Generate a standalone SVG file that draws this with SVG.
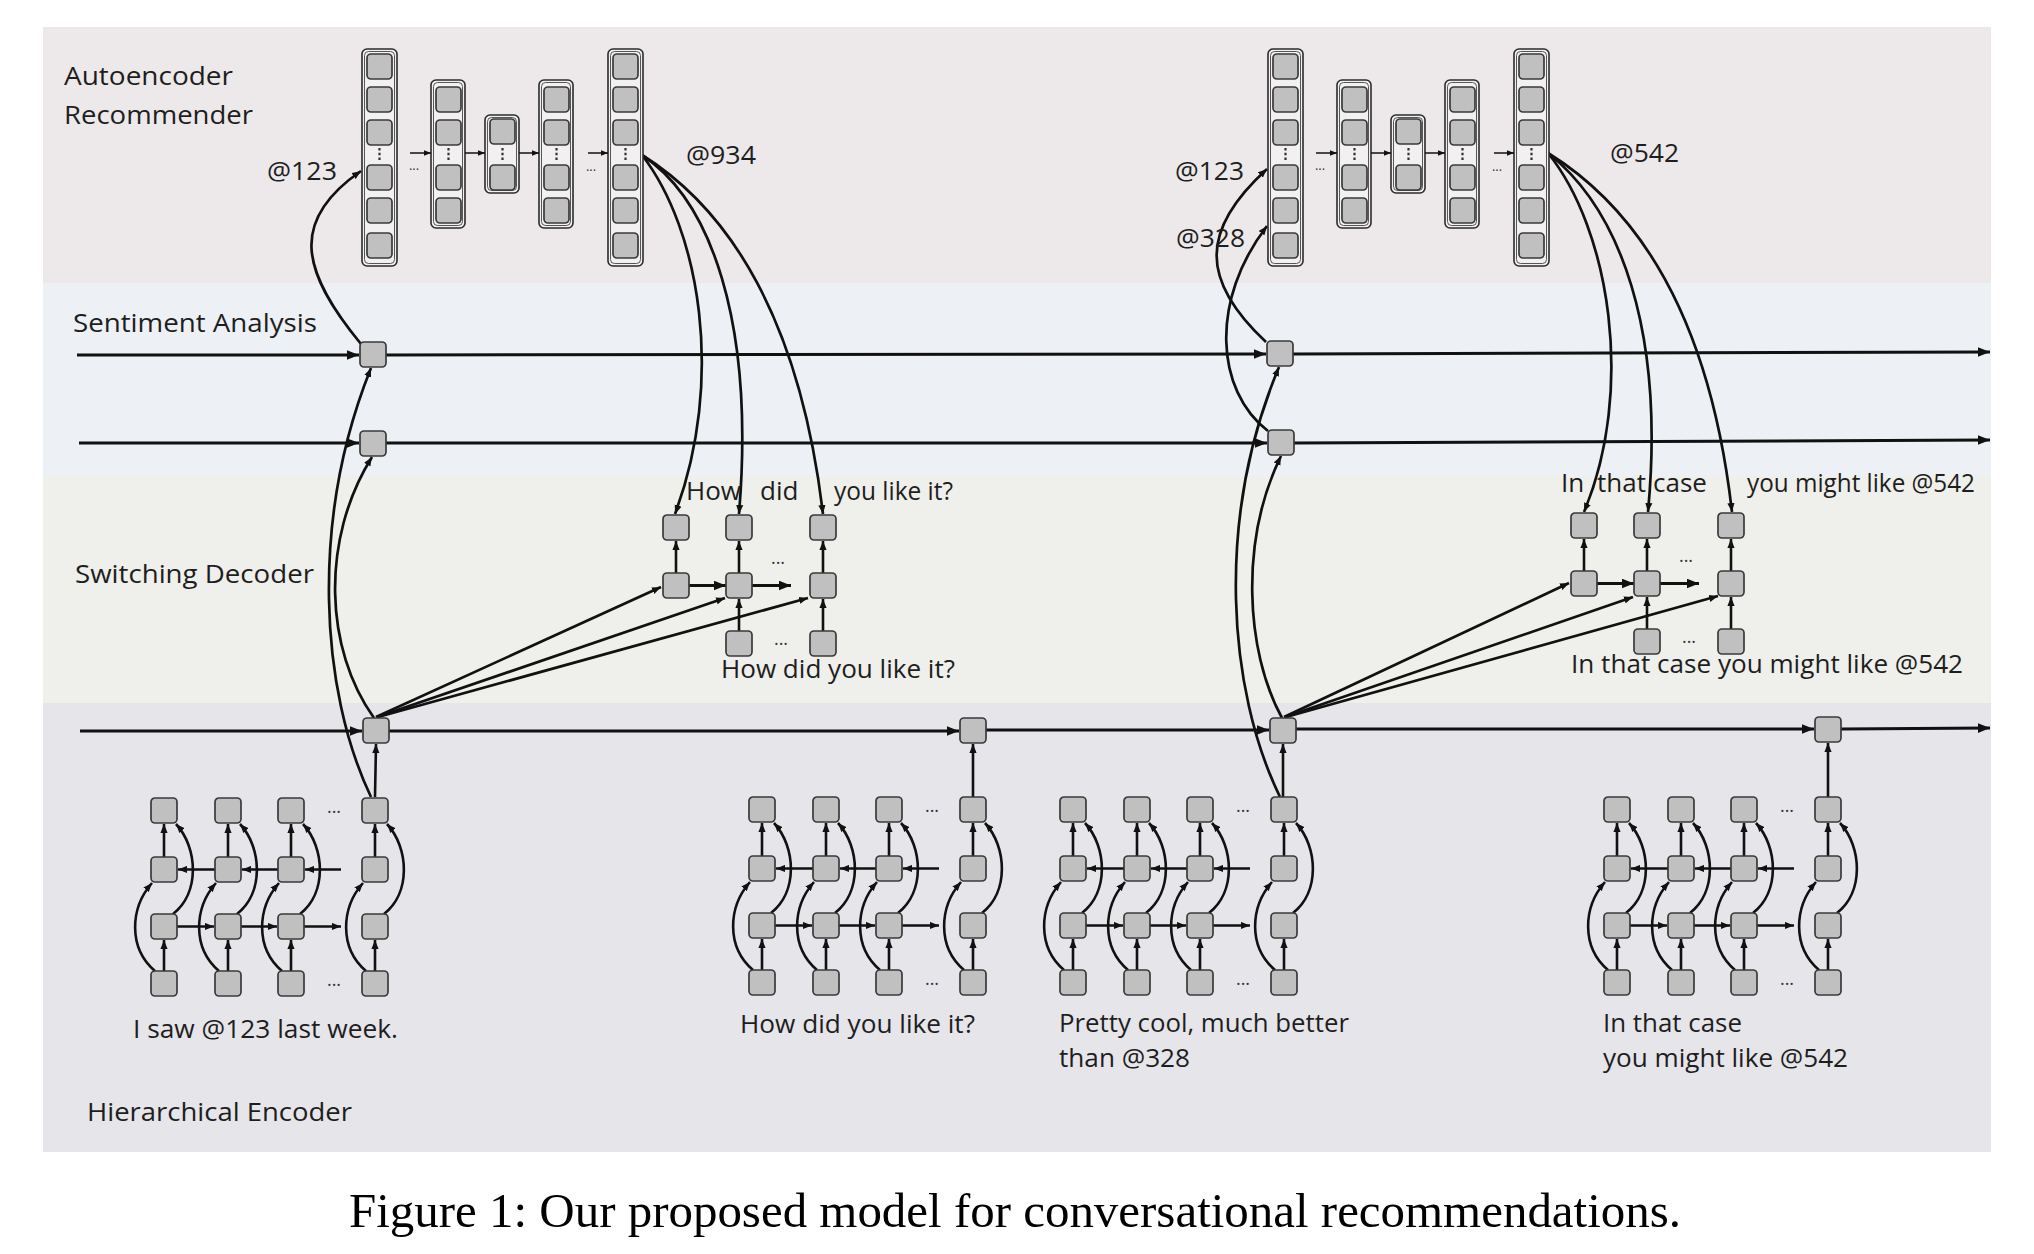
<svg xmlns="http://www.w3.org/2000/svg" width="2034" height="1254" viewBox="0 0 2034 1254">
<style>
.n{fill:#c0c0c0;stroke:#3a3a3a;stroke-width:1.7}
.col{fill:#f2f0f1;stroke:#2b2b2b;stroke-width:1.6}
.coli{fill:none;stroke:#444;stroke-width:0.9}
.ln{fill:none;stroke:#111;stroke-width:3}
.cv{fill:none;stroke:#111;stroke-width:2.7}
.e{fill:none;stroke:#111;stroke-width:2.6}
.h{fill:none;stroke:#111;stroke-width:3.2}
.ta{fill:none;stroke:#111;stroke-width:1.5}
.dt{fill:none;stroke:#333;stroke-width:2.2;stroke-dasharray:2.4 2.4}
.t{font-family:"Open Sans","Liberation Sans",sans-serif;font-size:26px;fill:#1e1e1e}
.d{font-family:"Open Sans","Liberation Sans",sans-serif;font-size:18px;fill:#333;text-anchor:middle}
.ds{font-family:"Open Sans","Liberation Sans",sans-serif;font-size:13px;fill:#333;text-anchor:middle}
.cap{font-family:"Liberation Serif","Times New Roman",serif;font-size:48px;fill:#000}
</style>
<defs>
<marker id="a" viewBox="0 0 10 8" refX="10" refY="4" markerWidth="12" markerHeight="10" markerUnits="userSpaceOnUse" orient="auto"><path d="M0,0L10,4L0,8z" fill="#111"/></marker>
<marker id="s" viewBox="0 0 10 8" refX="10" refY="4" markerWidth="9" markerHeight="8" markerUnits="userSpaceOnUse" orient="auto"><path d="M0,0L10,4L0,8z" fill="#111"/></marker>
<marker id="tn" viewBox="0 0 10 8" refX="10" refY="4" markerWidth="7" markerHeight="6" markerUnits="userSpaceOnUse" orient="auto"><path d="M0,0L10,4L0,8z" fill="#111"/></marker>

<g id="enc">
 <g marker-end="url(#s)">
  <path class="e" d="M0 173V142"/><path class="e" d="M64 173V142"/><path class="e" d="M127 173V142"/><path class="e" d="M211 173V142"/>
  <path class="e" d="M0 59V26"/><path class="e" d="M64 59V26"/><path class="e" d="M127 59V26"/><path class="e" d="M211 59V26"/>
  <path class="e" d="M13 128.5H50"/><path class="e" d="M77 128.5H113"/><path class="e" d="M140 128.5H177"/>
  <path class="e" d="M177 71.5H141"/><path class="e" d="M114 71.5H78"/><path class="e" d="M51 71.5H14"/>
  <path class="e" d="M-9 173C-36 150 -34 110 -12 85"/>
  <path class="e" d="M55 173C28 150 30 110 52 85"/>
  <path class="e" d="M118 173C91 150 93 110 115 85"/>
  <path class="e" d="M202 173C175 150 177 110 199 85"/>
  <path class="e" d="M9 116C36 95 34 50 12 26"/>
  <path class="e" d="M73 116C100 95 98 50 76 26"/>
  <path class="e" d="M136 116C163 95 161 50 139 26"/>
  <path class="e" d="M220 116C247 95 245 50 223 26"/>
 </g>
 <rect class="n" x="-13" y="0" width="26" height="25" rx="4"/><rect class="n" x="51" y="0" width="26" height="25" rx="4"/><rect class="n" x="114" y="0" width="26" height="25" rx="4"/><rect class="n" x="198" y="0" width="26" height="25" rx="4"/>
 <rect class="n" x="-13" y="59" width="26" height="25" rx="4"/><rect class="n" x="51" y="59" width="26" height="25" rx="4"/><rect class="n" x="114" y="59" width="26" height="25" rx="4"/><rect class="n" x="198" y="59" width="26" height="25" rx="4"/>
 <rect class="n" x="-13" y="116" width="26" height="25" rx="4"/><rect class="n" x="51" y="116" width="26" height="25" rx="4"/><rect class="n" x="114" y="116" width="26" height="25" rx="4"/><rect class="n" x="198" y="116" width="26" height="25" rx="4"/>
 <rect class="n" x="-13" y="173" width="26" height="25" rx="4"/><rect class="n" x="51" y="173" width="26" height="25" rx="4"/><rect class="n" x="114" y="173" width="26" height="25" rx="4"/><rect class="n" x="198" y="173" width="26" height="25" rx="4"/>
 <text class="d" x="170" y="15">...</text>
 <text class="d" x="170" y="188">...</text>
</g>

<g id="dec">
 <g marker-end="url(#s)">
  <path class="e" d="M0 58V26"/><path class="e" d="M63 58V26"/><path class="e" d="M147 58V26"/>
  <path class="e" d="M63 116V84"/><path class="e" d="M147 116V84"/>
 </g>
 <g marker-end="url(#a)">
  <path class="h" d="M13 70.5H50"/><path class="h" d="M76 70.5H115"/>
 </g>
 <rect class="n" x="-13" y="0" width="26" height="25" rx="4"/><rect class="n" x="50" y="0" width="26" height="25" rx="4"/><rect class="n" x="134" y="0" width="26" height="25" rx="4"/>
 <rect class="n" x="-13" y="58" width="26" height="25" rx="4"/><rect class="n" x="50" y="58" width="26" height="25" rx="4"/><rect class="n" x="134" y="58" width="26" height="25" rx="4"/>
 <rect class="n" x="50" y="116" width="26" height="25" rx="4"/><rect class="n" x="134" y="116" width="26" height="25" rx="4"/>
 <text class="d" x="102" y="49">...</text>
 <text class="d" x="105" y="130">...</text>
</g>

<g id="ae">
 <rect class="col" x="362" y="49" width="35" height="217" rx="5"/><rect class="coli" x="364.5" y="51.5" width="30" height="212" rx="4"/>
 <rect class="col" x="431" y="80" width="34" height="148" rx="5"/><rect class="coli" x="433.5" y="82.5" width="29" height="143" rx="4"/>
 <rect class="col" x="485" y="115" width="34" height="78" rx="5"/><rect class="coli" x="487.5" y="117.5" width="29" height="73" rx="4"/>
 <rect class="col" x="539" y="80" width="34" height="148" rx="5"/><rect class="coli" x="541.5" y="82.5" width="29" height="143" rx="4"/>
 <rect class="col" x="608" y="49" width="35" height="217" rx="5"/><rect class="coli" x="610.5" y="51.5" width="30" height="212" rx="4"/>
 <rect class="n" x="367" y="54" width="25" height="25" rx="4"/><rect class="n" x="367" y="87" width="25" height="25" rx="4"/><rect class="n" x="367" y="120" width="25" height="25" rx="4"/><rect class="n" x="367" y="165" width="25" height="25" rx="4"/><rect class="n" x="367" y="198" width="25" height="25" rx="4"/><rect class="n" x="367" y="233" width="25" height="25" rx="4"/>
 <rect class="n" x="436" y="87" width="25" height="25" rx="4"/><rect class="n" x="436" y="120" width="25" height="25" rx="4"/><rect class="n" x="436" y="165" width="25" height="25" rx="4"/><rect class="n" x="436" y="198" width="25" height="25" rx="4"/>
 <rect class="n" x="490" y="119" width="25" height="25" rx="4"/><rect class="n" x="490" y="165" width="25" height="25" rx="4"/>
 <rect class="n" x="544" y="87" width="25" height="25" rx="4"/><rect class="n" x="544" y="120" width="25" height="25" rx="4"/><rect class="n" x="544" y="165" width="25" height="25" rx="4"/><rect class="n" x="544" y="198" width="25" height="25" rx="4"/>
 <rect class="n" x="613" y="54" width="25" height="25" rx="4"/><rect class="n" x="613" y="87" width="25" height="25" rx="4"/><rect class="n" x="613" y="120" width="25" height="25" rx="4"/><rect class="n" x="613" y="165" width="25" height="25" rx="4"/><rect class="n" x="613" y="198" width="25" height="25" rx="4"/><rect class="n" x="613" y="233" width="25" height="25" rx="4"/>
 <path class="dt" d="M379.5 148V162M448.5 148V162M502.5 148V162M556.5 148V162M625.5 148V162"/>
 <g marker-end="url(#tn)">
  <path class="ta" d="M410 153H431"/><path class="ta" d="M465 153H485"/><path class="ta" d="M519 153H539"/><path class="ta" d="M588 153H608"/>
 </g>
 <text class="ds" x="414" y="170">...</text>
 <text class="ds" x="591" y="171">...</text>
</g>
</defs>

<g id="background">
 <rect x="0" y="0" width="2034" height="1254" fill="#ffffff"/>
 <rect x="43" y="27" width="1948" height="256" fill="#ede9ea"/>
 <rect x="43" y="283" width="1948" height="193" fill="#edf0f4"/>
 <rect x="43" y="476" width="1948" height="227" fill="#efefeb"/>
 <rect x="43" y="703" width="1948" height="449" fill="#e6e5ea"/>
</g>

<g id="connectors">
 <g marker-end="url(#a)">
  <path class="ln" d="M77 355H359"/>
  <path class="ln" d="M386 355L1266 354"/>
  <path class="ln" d="M1293 354L1990 352"/>
  <path class="ln" d="M79 443H359"/>
  <path class="ln" d="M386 443L1267 443"/>
  <path class="ln" d="M1294 443L1990 440"/>
  <path class="ln" d="M80 731H362"/>
  <path class="ln" d="M389 731L959 731"/>
  <path class="ln" d="M986 730L1269 730"/>
  <path class="ln" d="M1296 729L1814 729"/>
  <path class="ln" d="M1841 729L1990 728"/>
 </g>
 <g marker-end="url(#s)">
  <path class="cv" d="M361 344C300 270 290 220 361 171"/>
  <path class="cv" d="M371 797C320 690 310 520 371 368"/>
  <path class="cv" d="M374 718C325 650 320 540 372 457"/>
  <path class="e" d="M375 797L376 744"/>
  <path class="e" d="M973 797V744"/>
  <path class="e" d="M1283 797V744"/>
  <path class="e" d="M1828 797V743"/>
  <path class="cv" d="M1266 342C1200 280 1200 230 1267 169"/>
  <path class="cv" d="M1268 431C1215 390 1210 300 1267 226"/>
  <path class="cv" d="M1280 797C1228 690 1215 520 1279 367"/>
  <path class="cv" d="M1282 718C1245 650 1240 540 1281 456"/>
  <path class="cv" d="M376 717L661 587"/>
  <path class="cv" d="M377 717L725 598"/>
  <path class="cv" d="M378 717L808 598"/>
  <path class="cv" d="M1284 717L1569 583"/>
  <path class="cv" d="M1285 717L1633 597"/>
  <path class="cv" d="M1286 717L1718 596"/>
  <path class="cv" d="M642 155C700 230 725 380 675 514"/>
  <path class="cv" d="M642 155C710 200 755 320 739 514"/>
  <path class="cv" d="M642 155C730 210 800 320 823 514"/>
  <path class="cv" d="M1548 153C1610 230 1635 390 1584 512"/>
  <path class="cv" d="M1548 153C1620 210 1665 330 1648 512"/>
  <path class="cv" d="M1548 153C1640 210 1710 320 1732 512"/>
 </g>
</g>

<g id="autoencoder-1"><use href="#ae"/></g>
<g id="autoencoder-2"><use href="#ae" x="906"/></g>

<g id="sent-1a"><rect class="n" x="360" y="342" width="26" height="25" rx="4"/></g>
<g id="sent-2a"><rect class="n" x="360" y="431" width="26" height="25" rx="4"/></g>
<g id="sent-1b"><rect class="n" x="1267" y="341" width="26" height="25" rx="4"/></g>
<g id="sent-2b"><rect class="n" x="1268" y="430" width="26" height="25" rx="4"/></g>

<g id="enc-node-1"><rect class="n" x="363" y="718" width="26" height="25" rx="4"/></g>
<g id="enc-node-2"><rect class="n" x="960" y="718" width="26" height="25" rx="4"/></g>
<g id="enc-node-3"><rect class="n" x="1270" y="718" width="26" height="25" rx="4"/></g>
<g id="enc-node-4"><rect class="n" x="1815" y="717" width="26" height="25" rx="4"/></g>

<g id="decoder-1"><use href="#dec" x="676" y="515"/></g>
<g id="decoder-2"><use href="#dec" x="1584" y="513"/></g>

<g id="utterance-1"><use href="#enc" x="164" y="798"/></g>
<g id="utterance-2"><use href="#enc" x="762" y="797"/></g>
<g id="utterance-3"><use href="#enc" x="1073" y="797"/></g>
<g id="utterance-4"><use href="#enc" x="1617" y="797"/></g>

<g id="labels">
 <text class="t" x="64" y="85" textLength="169" lengthAdjust="spacingAndGlyphs">Autoencoder</text>
 <text class="t" x="64" y="124" textLength="189" lengthAdjust="spacingAndGlyphs">Recommender</text>
 <text class="t" x="267" y="180" textLength="70" lengthAdjust="spacingAndGlyphs">@123</text>
 <text class="t" x="686" y="164" textLength="70" lengthAdjust="spacingAndGlyphs">@934</text>
 <text class="t" x="1175" y="180" textLength="69" lengthAdjust="spacingAndGlyphs">@123</text>
 <text class="t" x="1176" y="247" textLength="69" lengthAdjust="spacingAndGlyphs">@328</text>
 <text class="t" x="1610" y="162" textLength="69" lengthAdjust="spacingAndGlyphs">@542</text>
 <text class="t" x="73" y="332" textLength="244" lengthAdjust="spacingAndGlyphs">Sentiment Analysis</text>
 <text class="t" x="75" y="583" textLength="239" lengthAdjust="spacingAndGlyphs">Switching Decoder</text>
 <text class="t" x="87" y="1121" textLength="265" lengthAdjust="spacingAndGlyphs">Hierarchical Encoder</text>
 <text class="t" x="686" y="500">How</text>
 <text class="t" x="760" y="500">did</text>
 <text class="t" x="834" y="500" textLength="119" lengthAdjust="spacingAndGlyphs">you like it?</text>
 <text class="t" x="721" y="678" textLength="234" lengthAdjust="spacingAndGlyphs">How did you like it?</text>
 <text class="t" x="1561" y="492">In</text>
 <text class="t" x="1597" y="492">that</text>
 <text class="t" x="1653" y="492">case</text>
 <text class="t" x="1747" y="492" textLength="228" lengthAdjust="spacingAndGlyphs">you might like @542</text>
 <text class="t" x="1571" y="673" textLength="392" lengthAdjust="spacingAndGlyphs">In that case you might like @542</text>
 <text class="t" x="133" y="1038" textLength="265" lengthAdjust="spacingAndGlyphs">I saw @123 last week.</text>
 <text class="t" x="740" y="1033" textLength="235" lengthAdjust="spacingAndGlyphs">How did you like it?</text>
 <text class="t" x="1059" y="1032" textLength="290" lengthAdjust="spacingAndGlyphs">Pretty cool, much better</text>
 <text class="t" x="1059" y="1067" textLength="131" lengthAdjust="spacingAndGlyphs">than @328</text>
 <text class="t" x="1603" y="1032" textLength="139" lengthAdjust="spacingAndGlyphs">In that case</text>
 <text class="t" x="1603" y="1067" textLength="245" lengthAdjust="spacingAndGlyphs">you might like @542</text>
</g>

<g id="caption">
 <text class="cap" x="349" y="1227" textLength="1332" lengthAdjust="spacingAndGlyphs">Figure 1: Our proposed model for conversational recommendations.</text>
</g>
</svg>
